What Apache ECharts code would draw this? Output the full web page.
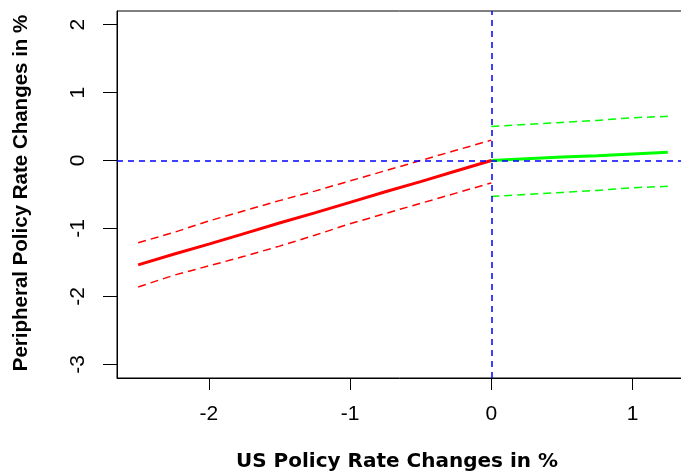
<!DOCTYPE html>
<html>
<head>
<meta charset="utf-8">
<script src="https://cdn.jsdelivr.net/npm/echarts@6/dist/echarts.min.js"></script>
<style>html,body{margin:0;padding:0;background:#fff;}#c{width:681px;height:476px;}</style>
</head>
<body>
<div id="c"></div>
<script>
// Data
const xTicks = [-2, -1, 0, 1];
const yTicks = [-3, -2, -1, 0, 1, 2];
const redX = [-2.5, -2.25, -2, -1.75, -1.5, -1.25, -1, -0.75, -0.5, -0.25, 0];
const redMid = [-1.535, -1.38, -1.23, -1.075, -0.92, -0.77, -0.615, -0.46, -0.31, -0.155, 0];
const redUpper = [-1.21, -1.06, -0.89, -0.74, -0.59, -0.45, -0.30, -0.15, 0.00, 0.15, 0.30];
const redLower = [-1.86, -1.69, -1.55, -1.41, -1.26, -1.10, -0.93, -0.78, -0.63, -0.48, -0.33];
const greenX = [0, 0.25, 0.5, 0.75, 1, 1.25];
const greenMid = [0, 0.025, 0.05, 0.07, 0.095, 0.12];
const greenUpper = [0.50, 0.53, 0.56, 0.59, 0.63, 0.65];
const greenLower = [-0.53, -0.50, -0.47, -0.44, -0.40, -0.38];
const xTitle = 'US Policy Rate Changes in %';
const yTitle = 'Peripheral Policy Rate Changes in %';

const zip = (xs, ys) => xs.map((x, i) => [x, ys[i]]);
const chart = echarts.init(document.getElementById('c'), null, {renderer: 'canvas'});
const lineS = (xs, ys, color, width, dashed) => ({
  type: 'line', data: zip(xs, ys), showSymbol: false, symbol: 'none', silent: true,
  lineStyle: {color: color, width: width, type: dashed ? [8, 5] : 'solid'}, z: 3
});
chart.setOption({
  animation: false,
  backgroundColor: '#fff',
  grid: {left: 117, top: 11, width: 572, height: 367, show: true, borderColor: '#000', borderWidth: 1,
    backgroundColor: 'transparent', outerBoundsMode: 'none', containLabel: false},
  xAxis: {
    type: 'value', min: -2.65, max: 1.4,
    splitLine: {show: false},
    axisLine: {show: true, onZero: false, lineStyle: {color: '#000', width: 1}},
    axisTick: {show: true, customValues: xTicks, length: 12, lineStyle: {color: '#000'}},
    axisLabel: {customValues: xTicks, margin: 26, fontSize: 21, color: '#000', fontFamily: 'Liberation Sans, Arial, sans-serif',
      formatter: v => String(v)},
    name: xTitle, nameLocation: 'middle', nameGap: 74,
    nameTextStyle: {fontSize: 20, fontWeight: 'bold', color: '#000', fontFamily: 'DejaVu Sans', padding: [0, 12, 0, 0]}
  },
  yAxis: {
    type: 'value', min: -3.2, max: 2.2,
    splitLine: {show: false},
    axisLine: {show: true, onZero: false, lineStyle: {color: '#000', width: 1}},
    axisTick: {show: true, customValues: yTicks, length: 14, lineStyle: {color: '#000'}},
    axisLabel: {customValues: yTicks, margin: 28, rotate: 90, fontSize: 21, color: '#000', fontFamily: 'Liberation Sans, Arial, sans-serif',
      formatter: v => String(v)},
    name: yTitle, nameLocation: 'middle', nameGap: 85, nameRotate: 90,
    nameTextStyle: {fontSize: 20.5, fontWeight: 'bold', color: '#000', fontFamily: 'Liberation Sans, Arial, sans-serif', padding: [0, 0, 0, 3]}
  },
  series: [
    lineS(redX, redUpper, '#FF0000', 1.5, true),
    lineS(redX, redLower, '#FF0000', 1.5, true),
    lineS(redX, redMid, '#FF0000', 3, false),
    lineS(greenX, greenUpper, '#00FF00', 1.5, true),
    lineS(greenX, greenLower, '#00FF00', 1.5, true),
    lineS(greenX, greenMid, '#00FF00', 3, false),
    {
      type: 'line', data: [], silent: true, z: 10,
      markLine: {
        silent: true, symbol: 'none', animation: false,
        label: {show: false},
        lineStyle: {color: '#0000FF', width: 1.5, type: [6, 5]},
        data: [{xAxis: 0}, {yAxis: 0}]
      }
    }
  ]
});
</script>
</body>
</html>
